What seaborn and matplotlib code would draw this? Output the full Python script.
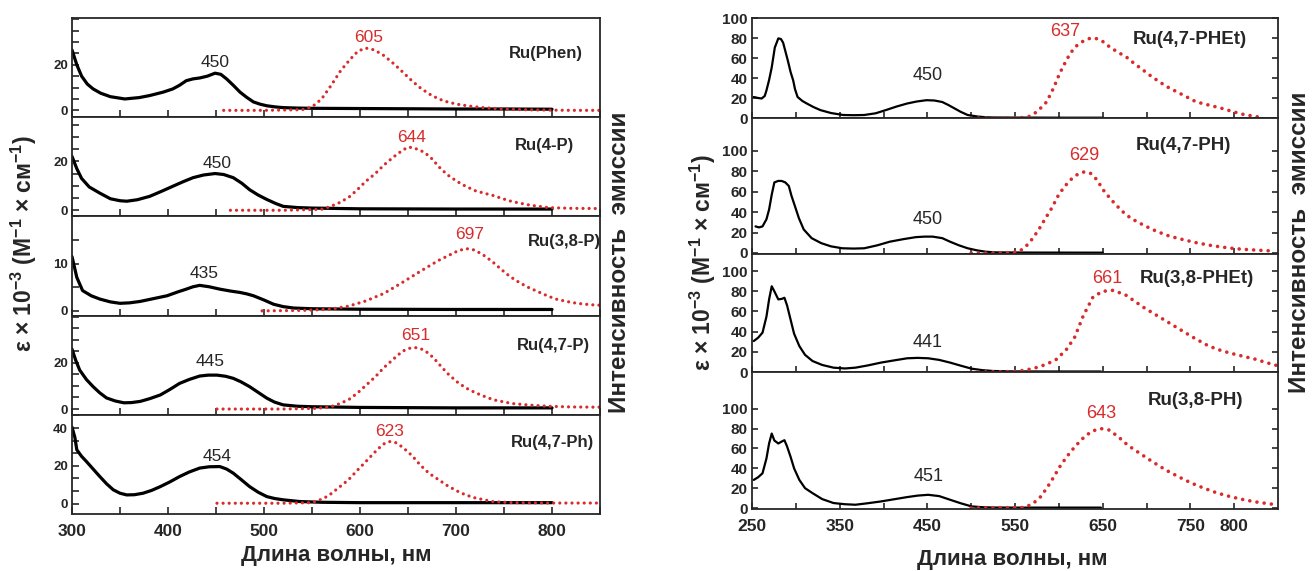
import matplotlib
matplotlib.use('Agg')
import matplotlib.pyplot as plt
from matplotlib.ticker import FixedLocator, FixedFormatter, MultipleLocator, NullFormatter
import seaborn as sns

# ---------------- left figure: absorption (black) and emission (red) ----------------
phen_abs_nm = [300, 305, 310, 316, 322, 330, 340, 355, 370, 381, 395, 405, 412, 419, 426, 433, 441, 449,
               455, 461, 468, 475, 482, 489, 496, 503, 512, 520, 535, 550, 600, 650, 700, 750, 800]
phen_abs = [26.5, 20, 15, 11.5, 9.4, 7.5, 6, 5, 5.6, 6.5, 8, 9.4, 11, 13, 13.8, 14.2, 15, 16.3,
            15.8, 13.8, 11, 8, 5.7, 3.7, 2.7, 2, 1.5, 1.2, 1, 0.9, 0.8, 0.7, 0.6, 0.6, 0.5]
phen_em_nm = [458, 500, 540, 550, 560, 570, 580, 590, 598, 606, 615, 625, 635, 644, 654, 663, 672, 682,
              691, 701, 715, 728, 745, 760, 780, 800, 825, 850]
phen_em = [0, 0, 0.3, 1.5, 5, 11, 17.5, 22.5, 26, 27.3, 26.5, 24, 20.5, 17, 13, 9.8, 7.2, 5,
           3.7, 2.7, 1.8, 1.2, 0.7, 0.4, 0.2, 0.1, 0, 0]

p4_abs_nm = [300, 305, 310, 318, 329, 340, 350, 357, 368, 381, 393, 405, 416, 426, 437, 449, 458, 468,
             477, 485, 494, 503, 512, 520, 535, 550, 600, 700, 800]
p4_abs = [22, 17, 13, 9.5, 7, 4.7, 3.9, 3.7, 4.3, 5.7, 7.7, 9.8, 11.7, 13.3, 14.4, 15, 14.6, 13.3,
          11, 8.4, 6.2, 4.4, 2.8, 1.6, 1.1, 0.9, 0.6, 0.5, 0.5]
p4_em_nm = [465, 520, 560, 569, 578, 588, 597, 606, 616, 625, 635, 644, 650, 656, 667, 675, 682, 691,
            701, 710, 720, 730, 739, 748, 758, 768, 777, 796, 820, 850]
p4_em = [0, 0, 0.4, 1.5, 3, 5.2, 8.3, 11.8, 15, 18.5, 21.8, 24.4, 25.8, 25.5, 23.7, 21, 17.8, 14.5,
         11.8, 9.8, 8, 6.9, 6, 4.8, 3.6, 2.8, 2.1, 1.1, 0.8, 0.7]

p38_abs_nm = [300, 305, 311, 320, 329, 340, 350, 360, 371, 385, 399, 410, 419, 426, 433, 443, 454, 465,
              475, 482, 489, 500, 510, 520, 531, 550, 600, 700, 800]
p38_abs = [11.5, 7.1, 4.3, 3.2, 2.5, 1.9, 1.6, 1.7, 2, 2.6, 3.2, 4, 4.6, 5.1, 5.4, 5.1, 4.6, 4.2,
           3.9, 3.6, 3.2, 2.3, 1.4, 0.9, 0.6, 0.45, 0.35, 0.3, 0.3]
p38_em_nm = [498, 540, 569, 588, 606, 625, 644, 663, 682, 701, 710, 719, 728, 738, 747, 756, 766, 775,
             785, 795, 804, 815, 826, 840, 850]
p38_em = [0, 0.1, 0.35, 1, 2.1, 3.7, 6, 8.4, 10.7, 12.6, 13.2, 12.9, 11.9, 10.4, 8.8, 7.3, 6, 5,
          4.1, 3.2, 2.5, 2, 1.6, 1.3, 1.2]

p47_abs_nm = [300, 304, 308, 315, 322, 329, 336, 345, 354, 362, 371, 381, 392, 402, 412, 422, 433, 442,
              451, 460, 468, 476, 485, 494, 503, 511, 520, 535, 550, 600, 700, 800]
p47_abs = [26, 21, 16.9, 12.8, 9.7, 7, 4.8, 3.5, 2.7, 2.8, 3.3, 4.5, 6.1, 8.5, 11.1, 12.8, 14.3, 14.7,
           14.7, 14.2, 13.3, 11.8, 9.7, 7.2, 4.7, 3, 1.8, 1.2, 1, 0.7, 0.5, 0.5]
p47_em_nm = [451, 520, 555, 569, 578, 588, 597, 606, 616, 625, 635, 644, 651, 658, 664, 671, 677, 682,
             691, 701, 710, 720, 730, 739, 758, 777, 796, 820, 850]
p47_em = [0, 0, 0.3, 0.9, 2.2, 4, 6.8, 10.2, 14, 18, 21.7, 25, 26.3, 26.6, 26, 24.3, 22, 19.6,
          15.5, 11.8, 9.2, 7.1, 5.4, 4, 2.4, 1.7, 1.2, 0.9, 0.8]

ph47_abs_nm = [300, 303, 305, 310, 315, 322, 329, 336, 343, 350, 357, 365, 374, 383, 392, 402, 412, 422,
               433, 443, 454, 461, 468, 476, 485, 494, 503, 511, 520, 537, 560, 600, 700, 800]
ph47_abs = [40.5, 35, 28.5, 25, 22.3, 18.3, 14.3, 10.5, 7.3, 5.5, 4.6, 4.7, 5.5, 7, 9, 11.5, 14.3, 16.7,
            18.8, 19.5, 19.6, 18.3, 16.1, 12.8, 9, 6, 3.7, 2.7, 2, 1.1, 0.7, 0.5, 0.5, 0.5]
ph47_em_nm = [451, 520, 548, 556, 563, 569, 578, 588, 597, 606, 614, 621, 626, 631, 637, 644, 654, 663,
              672, 682, 691, 701, 710, 720, 739, 760, 800, 850]
ph47_em = [0.2, 0.2, 0.5, 1.5, 3, 4.9, 8.5, 12.6, 17.5, 22.2, 26.5, 30, 32, 32.8, 32.3, 30, 25.5, 20.3,
           16, 12.6, 9.5, 6.7, 4.6, 3, 1, 0.5, 0.3, 0.3]

left_names = ['Ru(Phen)', 'Ru(4-P)', 'Ru(3,8-P)', 'Ru(4,7-P)', 'Ru(4,7-Ph)']
left_abs_peaks = ['450', '450', '435', '445', '454']
left_em_peaks = ['605', '644', '697', '651', '623']

# ---------------- right figure ----------------
e47_abs_nm = [252, 257, 261, 264.5, 266.5, 269.5, 272.5, 276, 280, 283, 285.5, 288, 291, 294, 297, 299, 302,
              307.5, 312.5, 320, 328, 340, 354, 366, 378, 391, 403, 415, 427, 438, 449, 458, 467, 474, 481,
              488, 496, 507, 517, 527, 548, 568, 609, 650]
e47_abs = [21, 20, 19.5, 22, 27.6, 38, 50.6, 70.4, 79.6, 79, 75.3, 67, 57, 46, 37.5, 29, 21, 17,
           14.5, 11, 7.9, 5, 3, 2.8, 3, 4.7, 8, 11.5, 14.5, 16.5, 17.8, 17.5, 16, 13, 9.6, 6.2,
           3, 1.5, 0.7, 0.5, 0.4, 0.4, 0.3, 0.3]
e47_em_nm = [500, 540, 561, 568, 576, 586, 594, 601, 607, 613, 620, 628, 634, 639, 645, 652, 658, 667,
             677, 686, 696, 705, 715, 724, 735, 746, 757, 773, 786, 798, 810, 821, 830]
e47_em = [0, 0, 0.5, 2, 7, 16, 30, 44.7, 55, 64.7, 72, 77, 79.3, 80, 79, 75.5, 71, 66,
          61, 54.5, 48, 42, 36, 31, 26, 21, 16, 12.5, 9.6, 6.5, 3.7, 2, 0.7]

h47_abs_nm = [254, 258, 262, 266.5, 269.5, 272.5, 275.5, 280, 284, 288, 292, 295, 299, 303.5, 309, 318, 329,
              340, 353, 366, 378, 393, 407, 422.5, 437, 447, 456, 467, 476, 486, 496, 507, 516, 527, 568, 650]
h47_abs = [26, 25, 26, 33, 42.5, 57, 69, 70.5, 70.4, 69, 65.5, 56, 45.7, 34, 23, 14.5, 9.6, 6.5,
           4.6, 4.3, 4.6, 7.5, 11, 13.5, 15.5, 16, 16, 14.5, 11, 7.5, 4.6, 2.5, 1.3, 0.6, 0.4, 0.3]
h47_em_nm = [500, 537, 554.5, 562, 569, 576.5, 584, 592, 599, 606, 614, 621.5, 627, 631, 636, 643, 652, 663,
             672, 682, 697, 712, 726, 742, 758, 776, 793, 810, 827, 844]
h47_em = [0, 0, 1.3, 6, 13, 22, 32.9, 44, 55.6, 64.5, 72, 77, 79, 79.3, 78, 72, 60, 49,
          41, 34, 27, 21, 16.5, 13, 9.8, 7, 5, 3.6, 2.7, 2]

p38r_abs_nm = [252, 257, 262, 266.5, 269.5, 272.5, 275.5, 280, 284, 287, 290, 294, 298, 304, 310.5, 319, 330,
               343, 356, 368, 382, 397, 412, 427, 439, 451, 463.5, 476, 488, 500.5, 513, 525, 548, 589, 648]
e38_abs = [30.7, 34, 39, 55, 72, 85, 80, 72, 72.5, 73.6, 66, 52, 38, 25.7, 17, 10.9, 7, 4.3,
           3.5, 4.3, 6.5, 9.3, 11.5, 13.6, 14, 13.6, 12, 9.3, 6.3, 3.3, 1.8, 1, 0.6, 0.5, 0.5]
e38_em_nm = [500, 550, 563, 575, 586, 597.5, 609, 618, 628, 639, 650, 662, 677, 696, 715, 734, 753, 771,
             786, 801, 813, 825, 836, 848]
e38_em = [0, 0.5, 2, 4.5, 7.7, 12.7, 22.7, 34.4, 56, 74.4, 80, 81, 76, 64.4, 54.4, 44.4, 34.4, 25.7,
          21, 17.5, 15, 12.5, 9.5, 6.6]

h38_abs = [28.3, 31, 35, 50, 65, 75, 68, 65, 67, 68.3, 62, 51.6, 40, 28.3, 20, 15, 9, 5,
           3.8, 3.3, 4.8, 6.6, 8.8, 11, 12.5, 13.3, 12, 8.3, 4.8, 1.6, 0.8, 0.5, 0.4, 0.4, 0.4]
h38_em_nm = [500, 560, 570, 579.5, 587, 594.5, 601, 609, 618.5, 629, 638, 648, 657.5, 668, 679, 692.5, 707,
             722, 736.5, 751.5, 766, 781, 795.5, 811, 827, 848]
h38_em = [0, 0.5, 4, 11.6, 21, 31.6, 41.5, 51.6, 62, 71.6, 77.5, 80, 78.5, 71.6, 63, 55, 46.5, 38.3,
          31.5, 25, 19.8, 15, 11.5, 8.3, 5.8, 3.3]

right_names = ['Ru(4,7-PHEt)', 'Ru(4,7-PH)', 'Ru(3,8-PHEt)', 'Ru(3,8-PH)']
right_abs_peaks = ['450', '450', '441', '451']
right_em_peaks = ['637', '629', '661', '643']
right_xticks = [250, 300, 350, 400, 450, 500, 550, 600, 650, 700, 750, 800]
right_xticklabels = ['250', '', '350', '', '450', '', '550', '', '650', '', '750', '800']

left_series = [(phen_abs_nm, phen_abs, phen_em_nm, phen_em),
               (p4_abs_nm, p4_abs, p4_em_nm, p4_em),
               (p38_abs_nm, p38_abs, p38_em_nm, p38_em),
               (p47_abs_nm, p47_abs, p47_em_nm, p47_em),
               (ph47_abs_nm, ph47_abs, ph47_em_nm, ph47_em)]
right_series = [(e47_abs_nm, e47_abs, e47_em_nm, e47_em),
                (h47_abs_nm, h47_abs, h47_em_nm, h47_em),
                (p38r_abs_nm, e38_abs, e38_em_nm, e38_em),
                (p38r_abs_nm, h38_abs, h38_em_nm, h38_em)]

# ---------------- layout / style ----------------
left_ylims = [(-3, 40.5), (-2.5, 38), (-1, 20), (-2.5, 40.5), (-5.5, 47)]
left_ymajor = [[0, 20], [0, 20], [0, 10], [0, 20], [0, 20, 40]]
left_yminor = [5, 5, 5, 5, 20 / 3]
left_abs_pos = [(449, 21), (451, 19.3), (438, 7.9), (444, 20.4), (451, 24.9)]
left_em_pos = [(609, 32), (654, 29.9), (714, 16.2), (658, 32), (631, 38)]
left_name_pos = [(794, 25), (792, 26.6), (813, 14.6), (801, 27.7), (800, 32.2)]

right_ylims = [(0, 100), (-1, 132), (0, 117), (-1, 137)]
right_bounds = [18, 118, 254, 372, 509]
right_abs_pos = [(450, 42.5), (450, 32.9), (450, 29), (451, 31.6)]
right_em_pos = [(607, 86), (629, 95), (655, 92.7), (648, 95)]
right_name_pos = [(749, 78), (742, 105), (757, 92.7), (756, 108)]

RED = '#d92b2b'
NARROW = ['Liberation Sans Narrow', 'Liberation Sans', 'DejaVu Sans']

sns.set_style('ticks')
plt.rcParams['font.family'] = ['Liberation Sans', 'DejaVu Sans']
plt.rcParams['axes.linewidth'] = 1.3
plt.rcParams['mathtext.fontset'] = 'custom'
plt.rcParams['mathtext.bf'] = 'Liberation Sans:bold'
plt.rcParams['mathtext.rm'] = 'Liberation Sans'

W, H = 1315, 571
fig = plt.figure(figsize=(W / 100, H / 100), dpi=100)


def px_axes(x0, y0, x1, y1):
    return fig.add_axes([x0 / W, 1 - y1 / H, (x1 - x0) / W, (y1 - y0) / H])


def draw_curves(ax, a_nm, a, e_nm, e, lw_abs, lw_em, gap):
    sns.lineplot(x=a_nm, y=a, ax=ax, color='black', lw=lw_abs, estimator=None, sort=False)
    sns.lineplot(x=e_nm, y=e, ax=ax, color=RED, lw=lw_em, linestyle=(0, (0.01, gap)),
                 dash_capstyle='round', estimator=None, sort=False)
    ax.set_xlabel('')
    ax.set_ylabel('')


# left stack
top, bottom = 18, 514
step = (bottom - top) / 5
for i in range(5):
    ax = px_axes(72, top + i * step, 600, top + (i + 1) * step)
    a_nm, a, e_nm, e = left_series[i]
    draw_curves(ax, a_nm, a, e_nm, e, 2.3, 2.3, 1.9)
    ax.set_xlim(300, 850)
    ax.set_ylim(*left_ylims[i])
    ax.xaxis.set_major_locator(MultipleLocator(100))
    ax.xaxis.set_minor_locator(MultipleLocator(50))
    ax.yaxis.set_major_locator(FixedLocator(left_ymajor[i]))
    ax.yaxis.set_minor_locator(MultipleLocator(left_yminor[i]))
    ax.tick_params(which='both', direction='in', length=5, width=1.2, top=False, right=False)
    ax.tick_params(axis='y', labelsize=9.5, pad=3)
    ax.tick_params(axis='x', labelsize=12.5, pad=7)
    for lab in ax.get_yticklabels() + ax.get_xticklabels():
        lab.set_fontweight('bold')
    if i < 4:
        ax.xaxis.set_major_formatter(NullFormatter())
    ax.text(*left_abs_pos[i], left_abs_peaks[i], fontsize=12.5, ha='center', va='center')
    ax.text(*left_em_pos[i], left_em_peaks[i], fontsize=12.5, color=RED, ha='center', va='center')
    ax.text(*left_name_pos[i], left_names[i], fontsize=12, weight='bold', ha='center', va='center')

# right stack
for i in range(4):
    ax = px_axes(752, right_bounds[i], 1278, right_bounds[i + 1])
    a_nm, a, e_nm, e = right_series[i]
    draw_curves(ax, a_nm, a, e_nm, e, 1.6, 2.6, 2.0)
    ax.set_xlim(250, 850)
    ax.set_ylim(*right_ylims[i])
    ax.xaxis.set_major_locator(FixedLocator(right_xticks))
    ax.yaxis.set_major_locator(FixedLocator([0, 20, 40, 60, 80, 100]))
    ax.tick_params(which='both', direction='in', length=4, width=1.2, top=False, right=True)
    ax.tick_params(axis='y', labelsize=11, pad=3)
    ax.tick_params(axis='x', labelsize=12.5, pad=7)
    if i < 3:
        ax.xaxis.set_major_formatter(NullFormatter())
    else:
        ax.xaxis.set_major_formatter(FixedFormatter(right_xticklabels))
    for lab in ax.get_yticklabels() + ax.get_xticklabels():
        lab.set_fontweight('bold')
        lab.set_family(NARROW)
    ax.text(*right_abs_pos[i], right_abs_peaks[i], fontsize=13, family=NARROW, ha='center', va='center')
    ax.text(*right_em_pos[i], right_em_peaks[i], fontsize=13, family=NARROW, color=RED,
            ha='center', va='center')
    ax.text(*right_name_pos[i], right_names[i], fontsize=13.5, family=NARROW, weight='bold',
            ha='center', va='center')

# axis titles
xlab = 'Длина волны, нм'
ylab = r'ε × 10$^{\mathbf{-3}}$ (М$^{\mathbf{-1}}$ × см$^{\mathbf{-1}}$)'
emlab = 'Интенсивность  эмиссии'
fig.text(336 / W, 1 - 555 / H, xlab, fontsize=16, weight='bold', ha='center', va='center')
fig.text(1012 / W, 1 - 560 / H, xlab, fontsize=16, weight='bold', ha='center', va='center')
fig.text(24 / W, 1 - 243 / H, ylab, fontsize=16.5, weight='bold', rotation=90, ha='center', va='center')
fig.text(703 / W, 1 - 262 / H, ylab, fontsize=16.5, weight='bold', rotation=90, ha='center', va='center')
fig.text(619 / W, 1 - 262 / H, emlab, fontsize=17.5, weight='bold', rotation=90, ha='center', va='center')
fig.text(1300 / W, 1 - 242 / H, emlab, fontsize=17.5, weight='bold', rotation=90, ha='center', va='center')

fig.savefig('out.png', dpi=100)
plt.close(fig)
